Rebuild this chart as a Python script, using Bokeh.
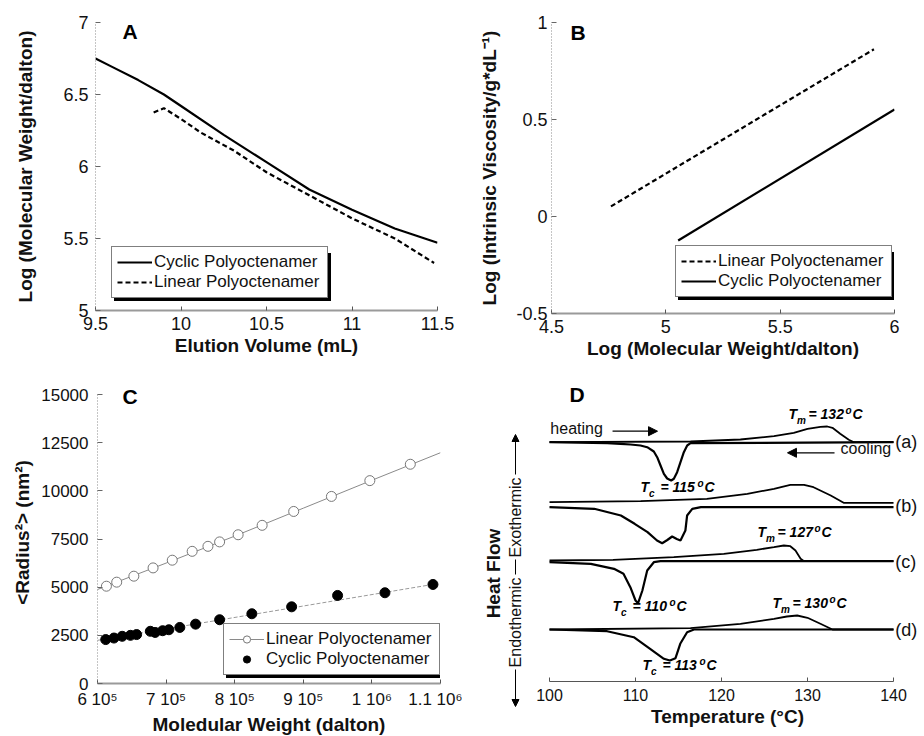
from bokeh.plotting import figure
from bokeh.layouts import column, row
from bokeh.models import Legend, LegendItem, Label, Arrow, NormalHead, FixedTicker
from bokeh.core.properties import value
from bokeh.embed import file_html
from bokeh.resources import INLINE

FONT = "Liberation Sans"

# ---------------- Panel A data ----------------
a_vol_cyclic = [9.5, 9.6, 9.75, 9.9, 10.0, 10.25, 10.5, 10.75, 11.0, 11.25, 11.5]
a_logmw_cyclic = [6.75, 6.69, 6.60, 6.50, 6.42, 6.22, 6.03, 5.84, 5.70, 5.57, 5.47]
a_vol_linear = [9.84, 9.9, 10.0, 10.115, 10.31, 10.5, 10.75, 11.0, 11.25, 11.48]
a_logmw_linear = [6.375, 6.405, 6.33, 6.236, 6.11, 5.96, 5.80, 5.64, 5.50, 5.33]
a_xticks = [9.5, 10, 10.5, 11, 11.5]
a_xlabels = ["9.5", "10", "10.5", "11", "11.5"]
a_yticks = [5, 5.5, 6, 6.5, 7]
a_ylabels = ["5", "5.5", "6", "6.5", "7"]

# ---------------- Panel B data ----------------
b_logmw_linear = [4.76, 5.91]
b_logiv_linear = [0.052, 0.862]
b_logmw_cyclic = [5.054, 6.0]
b_logiv_cyclic = [-0.124, 0.552]
b_xticks = [4.5, 5, 5.5, 6]
b_xlabels = ["4.5", "5", "5.5", "6"]
b_yticks = [-0.5, 0, 0.5, 1]
b_ylabels = ["-0.5", "0", "0.5", "1"]

# ---------------- Panel C data ----------------
c_mw_linear = [6.13e5, 6.28e5, 6.53e5, 6.81e5, 7.09e5, 7.38e5, 7.61e5, 7.78e5,
               8.05e5, 8.40e5, 8.86e5, 9.41e5, 9.97e5, 1.056e6]
c_r2_linear = [5050, 5260, 5570, 6000, 6400, 6860, 7120, 7350,
               7720, 8210, 8930, 9710, 10530, 11380]
c_fit_mw_linear = [6.0e5, 7.0e5, 8.0e5, 9.0e5, 1.0e6, 1.1e6]
c_fit_r2_linear = [4880, 6250, 7650, 9100, 10550, 11980]
c_mw_cyclic = [6.12e5, 6.24e5, 6.36e5, 6.48e5, 6.57e5, 6.77e5, 6.84e5, 6.95e5, 7.04e5,
               7.20e5, 7.43e5, 7.78e5, 8.25e5, 8.83e5, 9.50e5, 1.019e6, 1.089e6]
c_r2_cyclic = [2280, 2360, 2450, 2500, 2540, 2710, 2650, 2740, 2790,
               2910, 3080, 3310, 3620, 3980, 4570, 4710, 5140]
c_fit_mw_cyclic = [6.0e5, 1.09e6]
c_fit_r2_cyclic = [2240, 5150]
c_xticks = [6.0e5, 7.0e5, 8.0e5, 9.0e5, 1.0e6, 1.1e6]
c_xlabels = ["6 10\u2075", "7 10\u2075", "8 10\u2075", "9 10\u2075", "1 10\u2076", "1.1 10\u2076"]
c_yticks = [0, 2500, 5000, 7500, 10000, 12500, 15000]
c_ylabels = ["0", "2500", "5000", "7500", "10000", "12500", "15000"]

# ---------------- Panel D data (heat flow, arbitrary units incl. offsets) ----------------
d_a_heat_T = [100.0, 116.4, 122.2, 126.1, 128.4, 130.0, 131.5, 132.3, 132.9, 133.8, 134.8, 135.4, 140.0]
d_a_heat_h = [239.3, 240.0, 242.0, 245.3, 248.7, 252.7, 254.7, 255.0, 253.7, 247.7, 241.7, 239.3, 239.3]
d_a_cool_T = [140.0, 116.4, 116.01, 115.62, 115.23, 114.84, 114.46, 114.15, 113.68, 113.30,
              112.91, 112.52, 112.13, 111.36, 110.58, 109.42, 108.26, 106.71, 100.0]
d_a_cool_h = [239.3, 238.3, 236.0, 229.3, 219.3, 209.3, 202.7, 201.0, 203.0, 207.7,
              216.0, 224.3, 230.0, 234.3, 236.0, 237.0, 237.7, 238.3, 239.3]
d_b_heat_T = [100.0, 110.6, 118.3, 123.0, 126.1, 128.0, 129.6, 130.7, 132.7, 134.2, 140.0]
d_b_heat_h = [179.3, 180.3, 182.7, 187.7, 192.7, 196.7, 196.7, 194.3, 186.0, 178.7, 178.7]
d_b_cool_T = [140.0, 117.6, 116.6, 116.0, 115.8, 115.23, 114.8, 114.26, 113.7, 113.1,
              112.5, 111.4, 109.9, 108.3, 105.2, 100.0]
d_b_cool_h = [174.3, 174.3, 172.7, 166.0, 151.0, 141.0, 142.5, 145.0, 141.5, 138.3,
              141.0, 149.3, 157.7, 166.0, 172.7, 174.3]
d_c_heat_T = [100.0, 107.4, 114.45, 120.27, 124.1, 126.1, 127.25, 128.0, 128.6, 129.2, 129.6, 140.0]
d_c_heat_h = [121.0, 121.7, 124.3, 127.7, 131.7, 134.3, 136.0, 135.3, 131.0, 122.7, 120.3, 120.3]
d_c_cool_T = [140.0, 112.9, 112.13, 111.36, 110.8, 110.3, 110.0, 109.4, 108.6, 107.5, 104.8, 100.0]
d_c_cool_h = [120.3, 120.3, 119.3, 111.0, 91.0, 78.3, 81.0, 94.3, 107.7, 112.7, 117.7, 119.3]
d_d_heat_T = [100.0, 116.4, 122.2, 126.1, 127.6, 128.8, 130.0, 131.5, 132.9, 140.0]
d_d_heat_h = [52.0, 53.3, 57.7, 62.7, 65.0, 66.0, 63.7, 57.7, 52.0, 52.0]
d_d_cool_T = [140.0, 116.8, 116.0, 115.2, 114.65, 114.0, 113.3, 111.7, 109.8, 106.7, 100.0]
d_d_cool_h = [52.0, 52.0, 49.3, 37.7, 23.3, 21.0, 22.7, 32.7, 44.3, 50.3, 52.0]
d_xticks = [100, 110, 120, 130, 140]
d_xlabels = ["100", "110", "120", "130", "140"]
d_trace_names = ["(a)", "(b)", "(c)", "(d)"]
d_peak_sub = ["m", "c", "m", "c", "m", "c"]
d_peak_val = ["132", "115", "127", "110", "130", "113"]


def make_fig(xr, yr, fw, fh, bl, br, bt, bb, **kw):
    p = figure(frame_width=fw, frame_height=fh, x_range=xr, y_range=yr, output_backend="svg",
               toolbar_location=None, min_border_left=bl, min_border_right=br,
               min_border_top=bt, min_border_bottom=bb, **kw)
    p.outline_line_color = None
    p.xgrid.visible = False
    p.ygrid.visible = False
    p.background_fill_color = "white"
    p.border_fill_color = "white"
    return p


def style_x(p, ticks, labels, label, tick_px, tls, ls):
    ax = p.xaxis[0]
    ax.ticker = FixedTicker(ticks=ticks)
    ax.major_label_overrides = {t: l for t, l in zip(ticks, labels)}
    ax.axis_line_color = "#9a9a9a"
    ax.axis_line_width = 2
    ax.major_tick_in = 4
    ax.major_tick_out = 0
    ax.major_tick_line_color = "#555555"
    ax.minor_tick_line_color = None
    ax.major_label_text_font = FONT
    ax.major_label_text_font_size = tick_px
    ax.major_label_text_color = "#111111"
    ax.major_label_standoff = tls
    ax.axis_label = label
    ax.axis_label_text_font = FONT
    ax.axis_label_text_font_style = "bold"
    ax.axis_label_text_font_size = "19px"
    ax.axis_label_text_color = "#111111"
    ax.axis_label_standoff = ls


def style_y(p, ticks, labels, label, tick_px, tls, ls):
    ax = p.yaxis[0]
    ax.ticker = FixedTicker(ticks=ticks)
    ax.major_label_overrides = {t: l for t, l in zip(ticks, labels)}
    ax.axis_line_color = "#8a8a8a"
    ax.axis_line_width = 1
    ax.axis_line_dash = "1 2"
    ax.major_tick_in = 5
    ax.major_tick_out = 0
    ax.major_tick_line_color = "#666666"
    ax.minor_tick_line_color = None
    ax.major_label_text_font = FONT
    ax.major_label_text_font_size = tick_px
    ax.major_label_text_color = "#111111"
    ax.major_label_standoff = tls
    ax.axis_label = label
    ax.axis_label_text_font = FONT
    ax.axis_label_text_font_style = "bold"
    ax.axis_label_text_font_size = "19px"
    ax.axis_label_text_color = "#111111"
    ax.axis_label_standoff = ls


def add_legend(p, entries, loc, shadow_renderer):
    common = dict(orientation="vertical", border_line_width=1.5,
                  label_text_font=FONT, label_text_font_size="17px", label_width=168,
                  glyph_width=35, glyph_height=18, label_height=18,
                  label_standoff=2, padding=5, spacing=0, margin=0)
    # drop shadow: same size (fixed label width), empty labels, offset down-right
    shadow = Legend(items=[LegendItem(label=value(""), renderers=[shadow_renderer]) for _ in entries],
                    location=(loc[0] + 3, loc[1] - 3), border_line_color="black",
                    background_fill_color="black", background_fill_alpha=1,
                    label_text_color="black", **common)
    main = Legend(items=[LegendItem(label=l, renderers=r) for l, r in entries],
                  location=loc, border_line_color="black",
                  background_fill_color="white", background_fill_alpha=1,
                  label_text_color="#111111", **common)
    p.add_layout(shadow)
    p.add_layout(main)


def letter(p, x, y, t):
    p.add_layout(Label(x=x, y=y, text=t, text_font=FONT, text_font_style="bold",
                       text_font_size="21px", text_color="black"))


# ---------------- Panel A ----------------
pA = make_fig((9.5, 11.5), (5, 7), 342, 288, 95, 25, 22, 58)
style_x(pA, a_xticks, a_xlabels, "Elution Volume (mL)", "18px", 6, 2)
style_y(pA, a_yticks, a_ylabels, "Log (Molecular Weight/dalton)", "18px", 7, 24)
rA1 = pA.line(a_vol_cyclic, a_logmw_cyclic, line_color="black", line_width=2.2)
rA2 = pA.line(a_vol_linear, a_logmw_linear, line_color="black", line_width=2.2, line_dash="5 3")
add_legend(pA, [("Cyclic Polyoctenamer", [rA1]), ("Linear Polyoctenamer", [rA2])], (16, 12), rA1)
letter(pA, 9.658, 6.861, "A")

# ---------------- Panel B ----------------
pB = make_fig((4.5, 6.0), (-0.5, 1.0), 343, 291, 89, 30, 20, 57)
style_x(pB, b_xticks, b_xlabels, "Log (Molecular Weight/dalton)", "18px", 6, 2)
style_y(pB, b_yticks, b_ylabels, "Log (Intrinsic Viscosity/g*dL\u207b\u00b9)", "18px", 4, 13)
rB1 = pB.line(b_logmw_linear, b_logiv_linear, line_color="black", line_width=2.2, line_dash="5 3")
rB2 = pB.line(b_logmw_cyclic, b_logiv_cyclic, line_color="black", line_width=2.2)
add_legend(pB, [("Linear Polyoctenamer", [rB1]), ("Cyclic Polyoctenamer", [rB2])], (124, 16), rB2)
letter(pB, 4.583, 0.887, "B")

# ---------------- Panel C ----------------
pC = make_fig((6.0e5, 1.1e6), (0, 15675), 343, 302, 97, 22, 12, 54)
style_x(pC, c_xticks, c_xlabels, "Moledular Weight (dalton)", "17px", 6, 2)
style_y(pC, c_yticks, c_ylabels, "<Radius\u00b2> (nm\u00b2)", "17px", 9, 5)
pC.yaxis[0].bounds = (0, 15000)
pC.line(c_fit_mw_cyclic, c_fit_r2_cyclic, line_color="#9a9a9a", line_width=1, line_dash="4 2")
rCl = pC.line(c_fit_mw_linear, c_fit_r2_linear, line_color="#8a8a8a", line_width=1)
rCo = pC.scatter(c_mw_linear, c_r2_linear, marker="circle", size=10, fill_color="white",
                 line_color="#777777", line_width=1)
rCf = pC.scatter(c_mw_cyclic, c_r2_cyclic, marker="circle", size=10, fill_color="black",
                 line_color="black")
add_legend(pC, [("Linear Polyoctenamer", [rCl, rCo]), ("Cyclic Polyoctenamer", [rCf])], (126, 8), rCf)
letter(pC, 6.364e5, 14325, "C")

# ---------------- Panel D: side strip with heat-flow annotation ----------------
pDs = make_fig((0, 70), (-55, 313), 70, 368, 0, 0, 0, 0,
               x_axis_location=None, y_axis_location=None)
pDs.add_layout(Arrow(end=NormalHead(size=7, fill_color="black", line_color="black"),
                     x_start=53, y_start=220, x_end=53, y_end=260, line_width=1))
pDs.add_layout(Arrow(end=None, x_start=53, y_start=135, x_end=53, y_end=120, line_width=1))
pDs.add_layout(Arrow(end=NormalHead(size=7, fill_color="black", line_color="black"),
                     x_start=53, y_start=25, x_end=53, y_end=-12, line_width=1))
pDs.add_layout(Label(x=53, y=177, text="Exothermic", angle=90, angle_units="deg",
                     text_align="center", text_baseline="middle", text_font=FONT,
                     text_font_size="16px", text_color="#111111"))
pDs.add_layout(Label(x=53, y=72, text="Endothermic", angle=90, angle_units="deg",
                     text_align="center", text_baseline="middle", text_font=FONT,
                     text_font_size="16px", text_color="#111111"))
pDs.add_layout(Label(x=31, y=121, text="Heat Flow", angle=90, angle_units="deg",
                     text_align="center", text_baseline="middle", text_font=FONT,
                     text_font_style="bold", text_font_size="19px", text_color="#111111"))

# ---------------- Panel D: DSC traces ----------------
pD = make_fig((98.023, 143.37), (0, 300), 390, 300, 0, 2, 13, 55, y_axis_location=None)
style_x(pD, d_xticks, d_xlabels, "Temperature (\u00b0C)", "16px", 7, 2)
pD.xaxis[0].bounds = (100, 140)
pD.xaxis[0].axis_line_width = 1.2
pD.xaxis[0].axis_line_color = "#555555"
for T, h, w in [(d_a_heat_T, d_a_heat_h, 1.8), (d_a_cool_T, d_a_cool_h, 2.2),
                (d_b_heat_T, d_b_heat_h, 1.8), (d_b_cool_T, d_b_cool_h, 2.2),
                (d_c_heat_T, d_c_heat_h, 1.8), (d_c_cool_T, d_c_cool_h, 2.2),
                (d_d_heat_T, d_d_heat_h, 1.8), (d_d_cool_T, d_d_cool_h, 2.2)]:
    pD.line(T, h, line_color="black", line_width=w)
letter(pD, 102.33, 276, "D")

for name, hy in zip(d_trace_names, [240, 176, 120, 52]):
    pD.add_layout(Label(x=140.2, y=hy, text=name, text_font=FONT, text_font_size="18px",
                        text_baseline="middle", text_align="left", text_color="#111111"))

peak_pos = [(127.79, 260), (110.58, 187), (124.19, 142), (107.33, 68), (125.93, 71), (110.81, 9)]
for (tx, ty), sub, val in zip(peak_pos, d_peak_sub, d_peak_val):
    kw = dict(text_font=FONT, text_font_style="bold italic", text_color="black")
    pD.add_layout(Label(x=tx, y=ty, text="T", text_font_size="14px", **kw))
    pD.add_layout(Label(x=tx, y=ty, x_offset=8.5, y_offset=-4, text=sub, text_font_size="10px", **kw))
    pD.add_layout(Label(x=tx, y=ty, x_offset=20, text="= " + val, text_font_size="14px", **kw))
    pD.add_layout(Label(x=tx, y=ty, x_offset=57, y_offset=6, text="o", text_font_size="10px", **kw))
    pD.add_layout(Label(x=tx, y=ty, x_offset=64, text="C", text_font_size="14px", **kw))

pD.add_layout(Label(x=100.1, y=245, text="heating", text_font=FONT, text_font_size="16px", text_color="#111111"))
pD.add_layout(Arrow(end=NormalHead(size=9, fill_color="black", line_color="black"),
                    x_start=107.33, y_start=250.3, x_end=112.56, y_end=250.3, line_width=1.2))
pD.add_layout(Label(x=133.84, y=225, text="cooling", text_font=FONT, text_font_size="16px", text_color="#111111"))
pD.add_layout(Arrow(end=NormalHead(size=9, fill_color="black", line_color="black"),
                    x_start=133.14, y_start=228.7, x_end=127.67, y_end=228.7, line_width=1.2))

layout = column(row(pA, pB), row(pC, pDs, pD))
open("out.html", "w").write(file_html(layout, INLINE))
